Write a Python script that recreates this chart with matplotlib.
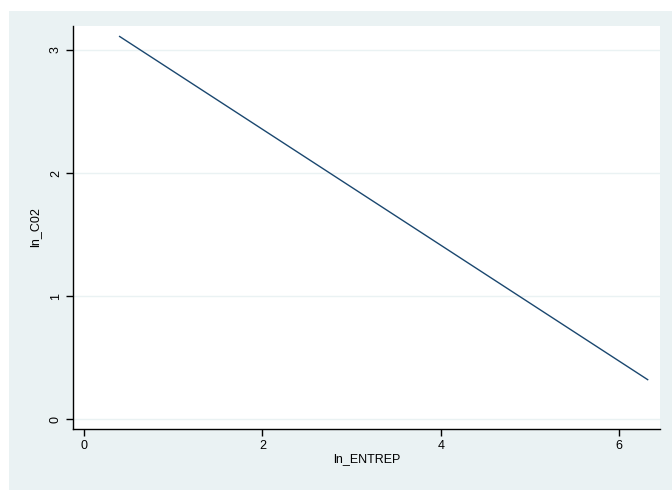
import matplotlib
matplotlib.use("Agg")
import matplotlib.pyplot as plt
from matplotlib.patches import Rectangle

plt.rcParams['font.family'] = ['Liberation Sans', 'DejaVu Sans']

# fitted line ln_C02 vs ln_ENTREP (endpoints)
ln_entrep = [0.40, 6.32]
ln_co2 = [3.11, 0.32]
xticks = [0, 2, 4, 6]
yticks = [0, 1, 2, 3]

bg = '#eaf2f3'
fig = plt.figure(figsize=(6.72, 4.91), dpi=100)
fig.patch.set_facecolor('white')
fig.patches.append(Rectangle((0.0134, 0.002), 0.99, 0.9756, transform=fig.transFigure,
                             facecolor=bg, edgecolor='none', zorder=-1))

ax = fig.add_axes([0.1086, 0.1263, 0.8734, 0.8207])
ax.set_facecolor('white')
ax.plot(ln_entrep, ln_co2, color='#1a476f', lw=1.0)

ax.set_xlim(-0.123, 6.457)
ax.set_ylim(-0.081, 3.195)
ax.set_xticks(xticks)
ax.set_yticks(yticks)
ax.grid(axis='y', color=bg, lw=1.0)
ax.set_axisbelow(True)

for s in ['top', 'right']:
    ax.spines[s].set_visible(False)
for s in ['left', 'bottom']:
    ax.spines[s].set_linewidth(1.0)
    ax.spines[s].set_color('black')

ax.tick_params(length=5, width=1, labelsize=9, pad=3)
ax.set_yticklabels([str(t) for t in yticks], rotation=90, va='center')
ax.set_xlabel('ln_ENTREP', fontsize=9, labelpad=1)
ax.set_ylabel('ln_C02', fontsize=9, labelpad=6)

fig.savefig('out.png', dpi=100)
